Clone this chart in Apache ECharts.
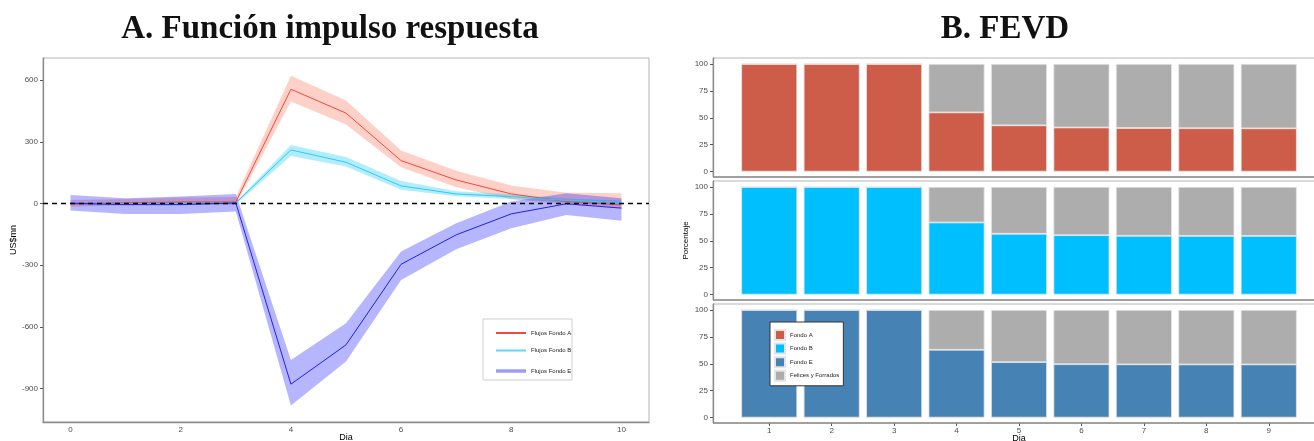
<!DOCTYPE html>
<html>
<head>
<meta charset="utf-8">
<script src="https://cdn.jsdelivr.net/npm/echarts@6/dist/echarts.min.js"></script>
<style>
  html, body { margin: 0; padding: 0; background: #fff; }
  #chart { width: 1314px; height: 441px; }
</style>
</head>
<body>
<div id="chart"></div>
<script>
// ---- Impulse response (days after shock) ----
const days = ['0', '1', '2', '3', '4', '5', '6', '7', '8', '9', '10'];

const irfA   = [-3, 4, 8, 8, 556, 440, 209, 115, 47, 10, -6];
const irfALo = [-15, -8, -5, -5, 496, 385, 177, 80, 21, -3, -20];
const irfAHi = [18, 22, 30, 32, 622, 501, 258, 160, 88, 53, 50];

const irfB   = [0, 0, 2, 3, 261, 201, 86, 47, 34, 15, 5];
const irfBLo = [-5, -5, -3, -3, 232, 180, 67, 36, 22, 5, -5];
const irfBHi = [5, 5, 6, 8, 285, 226, 110, 60, 45, 25, 15];

const irfE   = [2, -5, -5, 3, -878, -687, -295, -152, -50, -1, -22];
const irfELo = [-34, -50, -50, -39, -982, -768, -371, -222, -120, -55, -83];
const irfEHi = [42, 26, 34, 47, -760, -582, -233, -95, 10, 50, 26];

const irfYTicks = [-900, -600, -300, 0, 300, 600];

// ---- Variance decomposition (share explained by own shock, %) ----
const fevdDays = ['1', '2', '3', '4', '5', '6', '7', '8', '9'];
const shareA = [100, 100, 100, 55, 43, 41, 40.5, 40.3, 40.2];
const shareB = [100, 100, 100, 67, 56.5, 55.2, 54.6, 54.5, 54.5];
const shareE = [100, 100, 100, 63, 51.5, 49.6, 49.5, 49.4, 49.4];
const fevdYTicks = [0, 25, 50, 75, 100];

const colA = '#F5473E', colB = '#2FC9F5', colE = '#1F1FF0';
const bandA = 'rgba(248,120,92,0.34)';
const bandB = 'rgba(0,196,245,0.30)';
const bandE = 'rgba(20,20,255,0.31)';
const fillA = '#CD5C48', fillB = '#00BFFF', fillE = '#4682B4', fillRest = '#ADADAD';

const sans = 'Liberation Sans, Arial, sans-serif';
const tickFont = { fontSize: 8, color: '#4D4D4D', fontFamily: sans };
const nameFont = { fontSize: 9, color: '#000', fontFamily: sans };

const diff = (hi, lo) => hi.map((v, i) => +(v - lo[i]).toFixed(2));

// confidence band = invisible lower edge + stacked width
function band(name, lo, hi, color) {
  return [
    { type: 'line', name: name + ' lo', xAxisIndex: 0, yAxisIndex: 0, stack: name, stackStrategy: 'all',
      data: lo, symbol: 'none', lineStyle: { opacity: 0 }, silent: true, z: 1 },
    { type: 'line', name: name + ' band', xAxisIndex: 0, yAxisIndex: 0, stack: name, stackStrategy: 'all',
      data: diff(hi, lo), symbol: 'none', lineStyle: { opacity: 0 },
      areaStyle: { color: color, opacity: 1 }, silent: true, z: 1 }
  ];
}
function irfLine(name, vals, color) {
  return { type: 'line', name: name, xAxisIndex: 0, yAxisIndex: 0, data: vals,
    symbol: 'none', lineStyle: { color: color, width: 1 }, itemStyle: { color: color }, z: 3 };
}

const barBorder = { borderColor: '#E4E4E4', borderWidth: 0.8 };
function fevdPanel(idx, name, share, fill) {
  return [
    { type: 'bar', name: name, xAxisIndex: idx, yAxisIndex: idx, stack: 'p' + idx,
      data: share, barWidth: 56, itemStyle: Object.assign({ color: fill }, barBorder) },
    { type: 'bar', name: 'Felices y Forrados', xAxisIndex: idx, yAxisIndex: idx, stack: 'p' + idx,
      data: share.map(v => +(100 - v).toFixed(2)), barWidth: 56,
      itemStyle: Object.assign({ color: fillRest }, barBorder) }
  ];
}

const axisLineStyle = { color: '#8C8C8C', width: 1.3 };
const panelTops = [58, 181, 304];
const panelH = 119;
// category bands of 62.4 px; panel frame starts 0.6 band further left
const barsLeft = 738, barsWidth = 562;

const grids = [
  { left: 43, top: 58, width: 606, height: 364, show: true, borderColor: '#B5B5B5', borderWidth: 1,
    containLabel: false, outerBoundsMode: 'none' }
].concat(panelTops.map(t => ({ left: barsLeft, top: t, width: barsWidth, height: panelH,
    containLabel: false, outerBoundsMode: 'none' })));

const xAxes = [
  { type: 'category', gridIndex: 0, data: days, boundaryGap: true,
    axisLine: { onZero: false, lineStyle: axisLineStyle },
    axisTick: { length: 3, alignWithLabel: true, interval: 1, lineStyle: { color: '#555' } },
    axisLabel: Object.assign({ interval: 1, margin: 4 }, tickFont),
    name: 'Dia', nameLocation: 'middle', nameGap: 11, nameMoveOverlap: false, nameTextStyle: nameFont }
];
const yAxes = [
  { type: 'value', gridIndex: 0, min: -1062, max: 708, splitLine: { show: false },
    axisLine: { show: true, onZero: false, lineStyle: axisLineStyle },
    axisTick: { show: true, length: 3, lineStyle: { color: '#555' }, customValues: irfYTicks },
    axisLabel: Object.assign({ customValues: irfYTicks, margin: 5 }, tickFont),
    name: 'US$mn', nameLocation: 'middle', nameGap: 25, nameMoveOverlap: false, nameTextStyle: nameFont }
];
for (let g = 1; g <= 3; g++) {
  xAxes.push({ type: 'category', gridIndex: g, data: fevdDays, boundaryGap: true,
    axisLine: { show: false, onZero: false },
    axisTick: { show: g === 3, length: 3, alignWithLabel: true, lineStyle: { color: '#555' } },
    axisLabel: Object.assign({ show: g === 3, margin: 4 }, tickFont),
    name: g === 3 ? 'Dia' : '', nameLocation: 'middle', nameGap: 11, nameMoveOverlap: false,
    nameTextStyle: nameFont });
  yAxes.push({ type: 'value', gridIndex: g, min: -5, max: 105.5, offset: barsLeft - 713,
    splitLine: { show: false },
    axisLine: { show: true, onZero: false, lineStyle: axisLineStyle },
    axisTick: { show: true, length: 3, lineStyle: { color: '#555' }, customValues: fevdYTicks },
    axisLabel: Object.assign({ customValues: fevdYTicks, margin: 5 }, tickFont),
    name: g === 2 ? 'Porcentaje' : '', nameLocation: 'middle', nameGap: 23, nameMoveOverlap: false,
    nameTextStyle: { fontSize: 8, color: '#000', fontFamily: sans } });
}

const zeroLine = {
  type: 'line', name: 'cero', xAxisIndex: 0, yAxisIndex: 0, data: [], silent: true,
  markLine: { silent: true, symbol: 'none', label: { show: false },
    lineStyle: { color: '#000', type: [5, 4], width: 1.3 }, data: [{ yAxis: 0 }] }, z: 4
};

const series = [].concat(
  band('A', irfALo, irfAHi, bandA),
  band('B', irfBLo, irfBHi, bandB),
  band('E', irfELo, irfEHi, bandE),
  [irfLine('Flujos Fondo A', irfA, colA), irfLine('Flujos Fondo B', irfB, colB), irfLine('Flujos Fondo E', irfE, colE)],
  [zeroLine],
  fevdPanel(1, 'Fondo A', shareA, fillA),
  fevdPanel(2, 'Fondo B', shareB, fillB),
  fevdPanel(3, 'Fondo E', shareE, fillE)
);

// facet frames and their bottom axis lines
const panelGraphics = [];
panelTops.forEach(t => {
  panelGraphics.push({ type: 'rect', z: 0, silent: true,
    shape: { x: 713, y: t, width: 604, height: panelH },
    style: { fill: 'none', stroke: '#B5B5B5', lineWidth: 1 } });
  panelGraphics.push({ type: 'line', z: 5, silent: true,
    shape: { x1: 713, y1: t + panelH, x2: 1314, y2: t + panelH },
    style: { stroke: '#8C8C8C', lineWidth: 1.3 } });
});

const legendText = { fontSize: 6, color: '#222', fontFamily: sans };
const option = {
  animation: false,
  backgroundColor: '#fff',
  grid: grids,
  xAxis: xAxes,
  yAxis: yAxes,
  series: series,
  legend: [
    { orient: 'vertical', left: 491, top: 325, itemWidth: 30, itemHeight: 2, itemGap: 11.5,
      icon: 'rect', textStyle: legendText, selectedMode: false,
      data: [
        { name: 'Flujos Fondo A', itemStyle: { color: colA } },
        { name: 'Flujos Fondo B', itemStyle: { color: '#5FD8FF' } }
      ] },
    { orient: 'vertical', left: 491, top: 363, itemWidth: 30, itemHeight: 3.5,
      icon: 'rect', textStyle: legendText, selectedMode: false,
      data: [{ name: 'Flujos Fondo E', itemStyle: { color: '#9C9CFF' } }] },
    { orient: 'vertical', left: 770, top: 322, itemWidth: 10, itemHeight: 10, itemGap: 1.6,
      icon: 'rect', textStyle: legendText, selectedMode: false,
      backgroundColor: '#fff', borderColor: '#333', borderWidth: 1, padding: [7, 4, 4, 4],
      data: ['Fondo A', 'Fondo B', 'Fondo E', 'Felices y Forrados'] }
  ],
  graphic: panelGraphics.concat([
    { type: 'rect', shape: { x: 483, y: 319, width: 89, height: 61 }, z: 90,
      style: { fill: 'none', stroke: '#CFCFCF', lineWidth: 1 } },
    { type: 'text', x: 330, y: 29, z: 100,
      style: { text: 'A. Función impulso respuesta', textAlign: 'center', textVerticalAlign: 'middle',
        font: 'bold 33px "Liberation Serif", serif', fill: '#111' } },
    { type: 'text', x: 1005, y: 29, z: 100,
      style: { text: 'B. FEVD', textAlign: 'center', textVerticalAlign: 'middle',
        font: 'bold 33px "Liberation Serif", serif', fill: '#111' } }
  ])
};

const chart = echarts.init(document.getElementById('chart'), null, { renderer: 'canvas' });
chart.setOption(option);
</script>
</body>
</html>
